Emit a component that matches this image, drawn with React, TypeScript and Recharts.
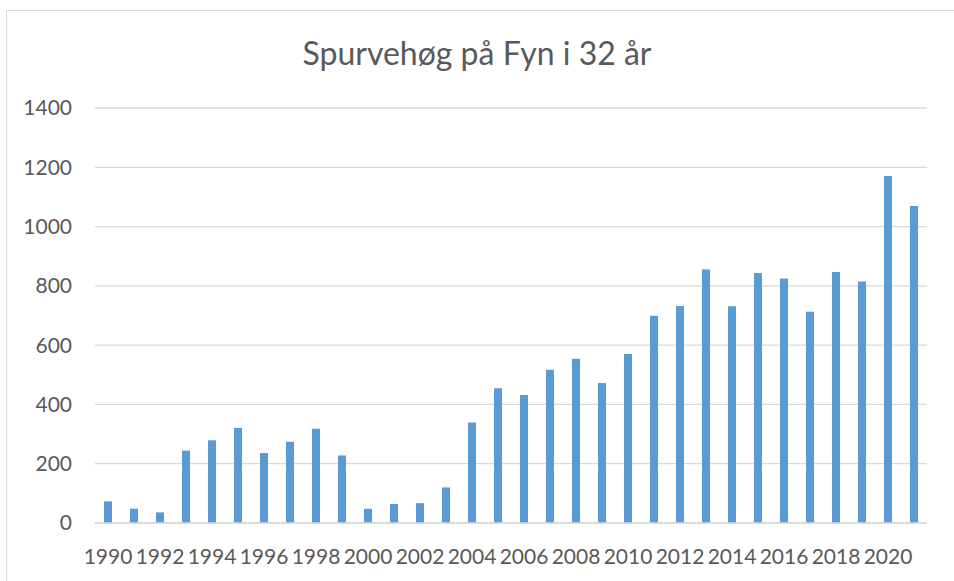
import React from 'react';
import { BarChart, Bar, XAxis, YAxis, CartesianGrid } from 'recharts';

const years = [
  '1990', '1991', '1992', '1993', '1994', '1995', '1996', '1997', '1998', '1999',
  '2000', '2001', '2002', '2003', '2004', '2005', '2006', '2007', '2008', '2009',
  '2010', '2011', '2012', '2013', '2014', '2015', '2016', '2017', '2018', '2019',
  '2020', '2021',
];

const counts = [
  73, 48, 36, 244, 279, 321, 236, 274, 318, 228,
  48, 64, 67, 120, 339, 455, 432, 517, 554, 472,
  570, 699, 732, 855, 731, 843, 825, 713, 847, 815,
  1171, 1069,
];

const yTicks = [0, 200, 400, 600, 800, 1000, 1200, 1400];

const chartTitle = 'Spurvehøg på Fyn i 32 år';

const data = years.map((year, i) => ({ year, count: counts[i] }));

const textColor = '#595959';
const font = 'Lato, Carlito, Calibri, sans-serif';

const App: React.FC = () => {
  return (
    <div style={{ position: 'absolute', left: 0, top: 0, width: 954, height: 581, overflow: 'hidden', background: '#fff' }}>
      <div
        style={{
          position: 'absolute',
          left: 6,
          top: 10,
          width: 1000,
          height: 700,
          border: '1px solid #d9d9d9',
        }}
      />
      <div
        style={{
          position: 'absolute',
          left: 0,
          top: 33,
          width: 954,
          textAlign: 'center',
          fontFamily: font,
          fontSize: 32,
          color: textColor,
          lineHeight: '40px',
        }}
      >
        {chartTitle}
      </div>
      <div style={{ position: 'absolute', left: 0, top: 0 }}>
        <BarChart
          width={954}
          height={581}
          data={data}
          margin={{ top: 108, right: 27, bottom: 28, left: 0 }}
          barSize={8}
        >
          <CartesianGrid vertical={false} stroke="#d9d9d9" strokeWidth={1.3} />
          <XAxis
            dataKey="year"
            interval={1}
            tickLine={false}
            axisLine={{ stroke: '#d9d9d9', strokeWidth: 1.3 }}
            tick={{ fill: textColor, fontSize: 21, fontFamily: font }}
            tickMargin={20}
            height={30}
          />
          <YAxis
            domain={[0, 1400]}
            ticks={yTicks}
            width={95}
            tickLine={false}
            axisLine={false}
            tick={{ fill: textColor, fontSize: 21, fontFamily: font }}
            tickMargin={17}
          />
          <Bar dataKey="count" fill="#5b9bd5" isAnimationActive={false} />
        </BarChart>
      </div>
    </div>
  );
};

export default App;
